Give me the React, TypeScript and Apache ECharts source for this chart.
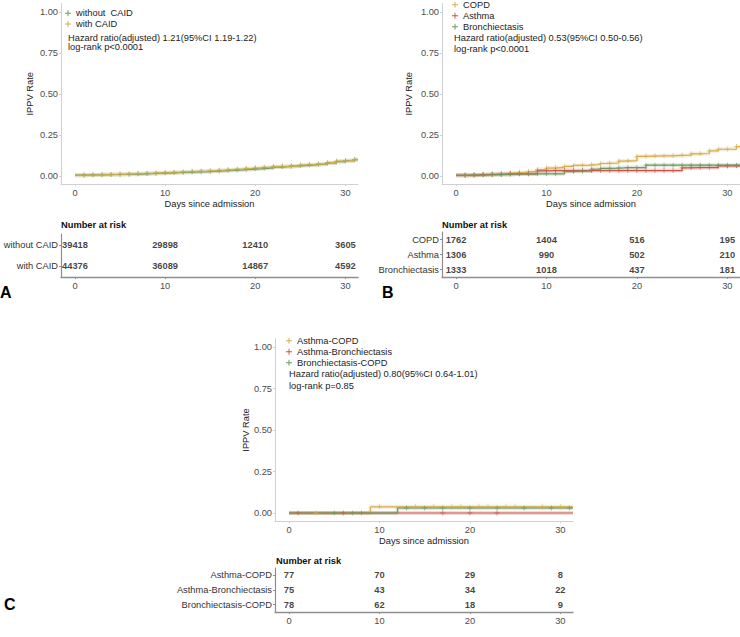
import React, { useEffect, useRef } from "react";
import * as echarts from "echarts";

// ---------- data ----------
const DAYS = [0, 1, 2, 3, 4, 5, 6, 7, 8, 9, 10, 11, 12, 13, 14, 15, 16, 17, 18, 19, 20, 21, 22, 23, 24, 25, 26, 27, 28, 29, 30, 31];
const MARK_DAYS = [1, 2, 3, 4, 5, 6, 7, 8, 9, 10, 11, 12, 13, 14, 15, 16, 17, 18, 19, 20, 21, 22, 23, 24, 25, 26, 27, 28, 29, 30, 31];
const X_TICKS = [0, 10, 20, 30];
const Y_TICKS = [0, 0.25, 0.5, 0.75, 1];
const RISK_TIMES = [0, 10, 20, 30];
const X_MIN = -1.55;
const X_MAX = 31.4;

// Panel A
const A_NAMES = ["without  CAID", "with CAID"];
const A_WITHOUT = [0.004, 0.005, 0.006, 0.007, 0.008, 0.009, 0.010, 0.012, 0.014, 0.016, 0.018, 0.020, 0.022, 0.024, 0.026, 0.028, 0.031, 0.034, 0.037, 0.040, 0.044, 0.048, 0.053, 0.057, 0.060, 0.064, 0.068, 0.072, 0.078, 0.086, 0.092, 0.098];
const A_WITH = [0.004, 0.005, 0.006, 0.008, 0.009, 0.010, 0.012, 0.014, 0.016, 0.018, 0.020, 0.022, 0.025, 0.027, 0.029, 0.032, 0.035, 0.038, 0.042, 0.046, 0.050, 0.053, 0.056, 0.058, 0.060, 0.066, 0.069, 0.073, 0.080, 0.090, 0.094, 0.100];
const A_HR = "Hazard ratio(adjusted) 1.21(95%CI 1.19-1.22)";
const A_P = "log-rank p<0.0001";
const A_RISK_ROWS = ["without CAID", "with CAID"];
const A_RISK_WITHOUT = [39418, 29898, 12410, 3605];
const A_RISK_WITH = [44376, 36089, 14867, 4592];

// Panel B
const B_NAMES = ["COPD", "Asthma", "Bronchiectasis"];
const B_COPD = [0.003, 0.003, 0.006, 0.009, 0.012, 0.015, 0.018, 0.021, 0.026, 0.038, 0.047, 0.051, 0.057, 0.063, 0.065, 0.069, 0.075, 0.078, 0.090, 0.092, 0.118, 0.120, 0.122, 0.122, 0.124, 0.126, 0.134, 0.136, 0.152, 0.162, 0.163, 0.178];
const B_ASTHMA = [0.003, 0.003, 0.006, 0.008, 0.009, 0.010, 0.011, 0.012, 0.012, 0.030, 0.032, 0.032, 0.032, 0.032, 0.032, 0.032, 0.032, 0.032, 0.032, 0.032, 0.032, 0.032, 0.032, 0.032, 0.032, 0.048, 0.050, 0.050, 0.050, 0.060, 0.060, 0.061];
const B_BRONCH = [0.003, 0.004, 0.005, 0.006, 0.007, 0.008, 0.012, 0.012, 0.012, 0.012, 0.012, 0.012, 0.026, 0.028, 0.030, 0.040, 0.045, 0.046, 0.050, 0.050, 0.050, 0.065, 0.065, 0.065, 0.065, 0.065, 0.065, 0.065, 0.065, 0.065, 0.065, 0.065];
const B_HR = "Hazard ratio(adjusted) 0.53(95%CI 0.50-0.56)";
const B_P = "log-rank p<0.0001";
const B_RISK_ROWS = ["COPD", "Asthma", "Bronchiectasis"];
const B_RISK_COPD = [1762, 1404, 516, 195];
const B_RISK_ASTHMA = [1306, 990, 502, 210];
const B_RISK_BRONCH = [1333, 1018, 437, 181];

// Panel C
const C_NAMES = ["Asthma-COPD", "Asthma-Bronchiectasis", "Bronchiectasis-COPD"];
const C_AC_TIMES = [0, 9];
const C_AC_VALUES = [0, 0.037];
const C_AC_MARKS = [3, 10, 14, 16, 18, 19, 21, 22, 24, 25, 28, 30];
const C_AB_TIMES = [0];
const C_AB_VALUES = [0];
const C_AB_MARKS = [1, 6, 17, 20, 23];
const C_BC_TIMES = [0, 12];
const C_BC_VALUES = [0, 0.03];
const C_BC_MARKS = [5, 7, 8, 13, 15, 17, 20, 23, 26, 29, 31];
const C_HR = "Hazard ratio(adjusted) 0.80(95%CI 0.64-1.01)";
const C_P = "log-rank p=0.85";
const C_RISK_ROWS = ["Asthma-COPD", "Asthma-Bronchiectasis", "Bronchiectasis-COPD"];
const C_RISK_AC = [77, 70, 29, 8];
const C_RISK_AB = [75, 43, 34, 22];
const C_RISK_BC = [78, 62, 18, 9];

const PANEL_LETTERS = ["A", "B", "C"];

// ---------- styles ----------
const GOLD = "#D4AE50";
const RED = "#C9564D";
const GREEN = "#6C9A5E";
const FONT = "'Liberation Sans', Arial, Helvetica, sans-serif";
const FS = 9.3;
const PLUS = "path://M4.2,0H5.8V10H4.2Z M0,4.2H10V5.8H0Z";

function stepValue(times: number[], values: number[], t: number) {
  let v = values[0];
  for (let i = 0; i < times.length; i++) if (times[i] <= t) v = values[i];
  return v;
}

type Curve = { name: string; color: string; times: number[]; values: number[]; marks: number[] };
type Panel = {
  curves: Curve[];
  plot: { left: number; top: number; width: number; height: number };
  table: { left: number; top: number; width: number; height: number };
  yNameGap: number;
  rows: string[];
  risk: number[][];
  hr: string;
  p: string;
  legend: { left: number; top: number; lh: number };
  hrPos: { x: number; y1: number; y2: number };
  narPos: { x: number; y: number };
  letter: { x: number; y: number };
};

const panels: Panel[] = [
  {
    curves: [
      { name: A_NAMES[0], color: GREEN, times: DAYS, values: A_WITHOUT, marks: MARK_DAYS },
      { name: A_NAMES[1], color: GOLD, times: DAYS, values: A_WITH, marks: MARK_DAYS },
    ],
    plot: { left: 61, top: 3.6, width: 297, height: 180.4 },
    table: { left: 61, top: 234, width: 297, height: 43 },
    yNameGap: 27,
    rows: A_RISK_ROWS,
    risk: [A_RISK_WITHOUT, A_RISK_WITH],
    hr: A_HR,
    p: A_P,
    legend: { left: 65, top: 8, lh: 10.7 },
    hrPos: { x: 68, y1: 37.7, y2: 47.3 },
    narPos: { x: 61, y: 225 },
    letter: { x: 0, y: 292 },
  },
  {
    curves: [
      { name: B_NAMES[0], color: GOLD, times: DAYS, values: B_COPD, marks: MARK_DAYS },
      { name: B_NAMES[1], color: RED, times: DAYS, values: B_ASTHMA, marks: MARK_DAYS },
      { name: B_NAMES[2], color: GREEN, times: DAYS, values: B_BRONCH, marks: MARK_DAYS },
    ],
    plot: { left: 442, top: 3.6, width: 298, height: 180.4 },
    table: { left: 442, top: 232, width: 298, height: 45 },
    yNameGap: 29,
    rows: B_RISK_ROWS,
    risk: [B_RISK_COPD, B_RISK_ASTHMA, B_RISK_BRONCH],
    hr: B_HR,
    p: B_P,
    legend: { left: 452, top: -0.8, lh: 11 },
    hrPos: { x: 454, y1: 38.3, y2: 49.3 },
    narPos: { x: 442, y: 225 },
    letter: { x: 382, y: 292 },
  },
  {
    curves: [
      { name: C_NAMES[0], color: GOLD, times: C_AC_TIMES, values: C_AC_VALUES, marks: C_AC_MARKS },
      { name: C_NAMES[1], color: RED, times: C_AB_TIMES, values: C_AB_VALUES, marks: C_AB_MARKS },
      { name: C_NAMES[2], color: GREEN, times: C_BC_TIMES, values: C_BC_VALUES, marks: C_BC_MARKS },
    ],
    plot: { left: 275, top: 338.7, width: 298, height: 182.6 },
    table: { left: 275, top: 568, width: 298, height: 44 },
    yNameGap: 24,
    rows: C_RISK_ROWS,
    risk: [C_RISK_AC, C_RISK_AB, C_RISK_BC],
    hr: C_HR,
    p: C_P,
    legend: { left: 286, top: 335.2, lh: 11 },
    hrPos: { x: 289, y1: 374.3, y2: 385.7 },
    narPos: { x: 276, y: 560.7 },
    letter: { x: 4, y: 604 },
  },
];

function buildOption() {
  const grids: any[] = [];
  const xAxes: any[] = [];
  const yAxes: any[] = [];
  const series: any[] = [];
  const legends: any[] = [];
  const graphics: any[] = [];

  panels.forEach((p, k) => {
    const gPlot = 2 * k;
    const gTab = 2 * k + 1;
    grids.push({ ...p.plot, containLabel: false });
    grids.push({ ...p.table, containLabel: false });

    xAxes.push({
      gridIndex: gPlot,
      type: "value",
      min: X_MIN,
      max: X_MAX,
      axisLine: { show: true, onZero: false, lineStyle: { color: "#d0d0d0", width: 1 } },
      axisTick: { show: true, length: 2, customValues: X_TICKS, lineStyle: { color: "#d0d0d0" } },
      axisLabel: { customValues: X_TICKS, margin: 4, fontSize: FS, color: "#4d4d4d", fontFamily: FONT },
      splitLine: { show: false },
      name: "Days since admission",
      nameLocation: "middle",
      nameGap: 15,
      nameTextStyle: { fontSize: FS, color: "#222", fontFamily: FONT },
    });
    yAxes.push({
      gridIndex: gPlot,
      type: "value",
      min: -0.05,
      max: 1.05,
      axisLine: { show: true, onZero: false, lineStyle: { color: "#d0d0d0", width: 1 } },
      axisTick: { show: true, length: 2, customValues: Y_TICKS, lineStyle: { color: "#d0d0d0" } },
      axisLabel: {
        customValues: Y_TICKS,
        margin: 3,
        fontSize: FS,
        color: "#4d4d4d",
        fontFamily: FONT,
        formatter: (v: number) => v.toFixed(2),
      },
      splitLine: { show: false },
      name: "IPPV Rate",
      nameLocation: "middle",
      nameGap: p.yNameGap,
      nameRotate: 90,
      nameTextStyle: { fontSize: FS, color: "#222", fontFamily: FONT },
    });

    // table axes
    xAxes.push({
      gridIndex: gTab,
      type: "value",
      min: X_MIN,
      max: X_MAX,
      axisLine: { show: true, onZero: false, lineStyle: { color: "#8e8e8e", width: 1.4 } },
      axisTick: { show: true, length: 2, customValues: X_TICKS, lineStyle: { color: "#8e8e8e" } },
      axisLabel: { customValues: X_TICKS, margin: 4, fontSize: FS, color: "#4d4d4d", fontFamily: FONT },
      splitLine: { show: false },
    });
    yAxes.push({
      gridIndex: gTab,
      type: "category",
      data: p.rows,
      inverse: true,
      axisLine: { show: true, onZero: false, lineStyle: { color: "#8e8e8e", width: 1.2 } },
      axisTick: { show: true, length: 2, alignWithLabel: true, lineStyle: { color: "#8e8e8e" } },
      axisLabel: { margin: 3, fontSize: FS, color: "#333", fontFamily: FONT },
      splitLine: { show: false },
    });

    // curves
    p.curves.forEach((c) => {
      const pts = c.times.map((t, i) => [t, c.values[i]]);
      pts.push([X_MAX, c.values[c.values.length - 1]]);
      series.push({
        type: "line",
        name: "_band_" + c.name,
        xAxisIndex: gPlot,
        yAxisIndex: gPlot,
        data: pts,
        step: "end",
        showSymbol: false,
        silent: true,
        lineStyle: { color: c.color, width: 4, opacity: 0.22 },
        itemStyle: { color: c.color },
        z: 2,
      });
      series.push({
        type: "line",
        name: c.name,
        xAxisIndex: gPlot,
        yAxisIndex: gPlot,
        data: pts,
        step: "end",
        showSymbol: false,
        lineStyle: { color: c.color, width: 1.2 },
        itemStyle: { color: c.color },
        z: 3,
      });
      series.push({
        type: "scatter",
        name: c.name,
        xAxisIndex: gPlot,
        yAxisIndex: gPlot,
        data: c.marks.map((t) => [t, stepValue(c.times, c.values, t)]),
        symbol: PLUS,
        symbolSize: 5,
        itemStyle: { color: c.color, opacity: 0.75 },
        z: 4,
      });
    });

    // risk table numbers
    p.risk.forEach((row, r) => {
      series.push({
        type: "scatter",
        name: "_risk_" + k + "_" + r,
        xAxisIndex: gTab,
        yAxisIndex: gTab,
        data: row.map((v, i) => [RISK_TIMES[i], r, v]),
        symbolSize: 0,
        silent: true,
        label: {
          show: true,
          position: "inside",
          formatter: (q: any) => String(q.value[2]),
          fontSize: FS,
          fontWeight: "bold",
          color: "#111",
          fontFamily: FONT,
        },
      });
    });

    legends.push({
      data: p.curves.map((c) => c.name),
      orient: "vertical",
      left: p.legend.left,
      top: p.legend.top,
      padding: 0,
      itemGap: 0,
      itemWidth: 6,
      itemHeight: 6,
      icon: PLUS,
      selectedMode: false,
      textStyle: { fontSize: FS, color: "#222", fontFamily: FONT, lineHeight: p.legend.lh, height: p.legend.lh },
    });

    graphics.push(
      {
        type: "text",
        x: p.hrPos.x,
        y: p.hrPos.y1,
        style: { text: p.hr, fontSize: FS, fill: "#222", fontFamily: FONT, verticalAlign: "middle" },
      },
      {
        type: "text",
        x: p.hrPos.x,
        y: p.hrPos.y2,
        style: { text: p.p, fontSize: FS, fill: "#222", fontFamily: FONT, verticalAlign: "middle" },
      },
      {
        type: "text",
        x: p.narPos.x,
        y: p.narPos.y,
        style: { text: "Number at risk", fontSize: FS, fontWeight: "bold", fill: "#111", fontFamily: FONT, verticalAlign: "middle" },
      },
      {
        type: "text",
        x: p.letter.x,
        y: p.letter.y,
        style: { text: PANEL_LETTERS[k], fontSize: 16, fontWeight: "bold", fill: "#000", fontFamily: FONT, verticalAlign: "middle" },
      }
    );
  });

  return {
    animation: false,
    backgroundColor: "#ffffff",
    textStyle: { fontFamily: FONT },
    grid: grids,
    xAxis: xAxes,
    yAxis: yAxes,
    legend: legends,
    series,
    graphic: { elements: graphics },
  };
}

export default function App() {
  const ref = useRef<HTMLDivElement>(null);
  useEffect(() => {
    document.body.style.margin = "0";
    if (!ref.current) return;
    const chart = echarts.init(ref.current, undefined, { renderer: "svg" });
    chart.setOption(buildOption() as any);
    return () => chart.dispose();
  }, []);
  return <div ref={ref} style={{ width: 740, height: 637 }} />;
}
